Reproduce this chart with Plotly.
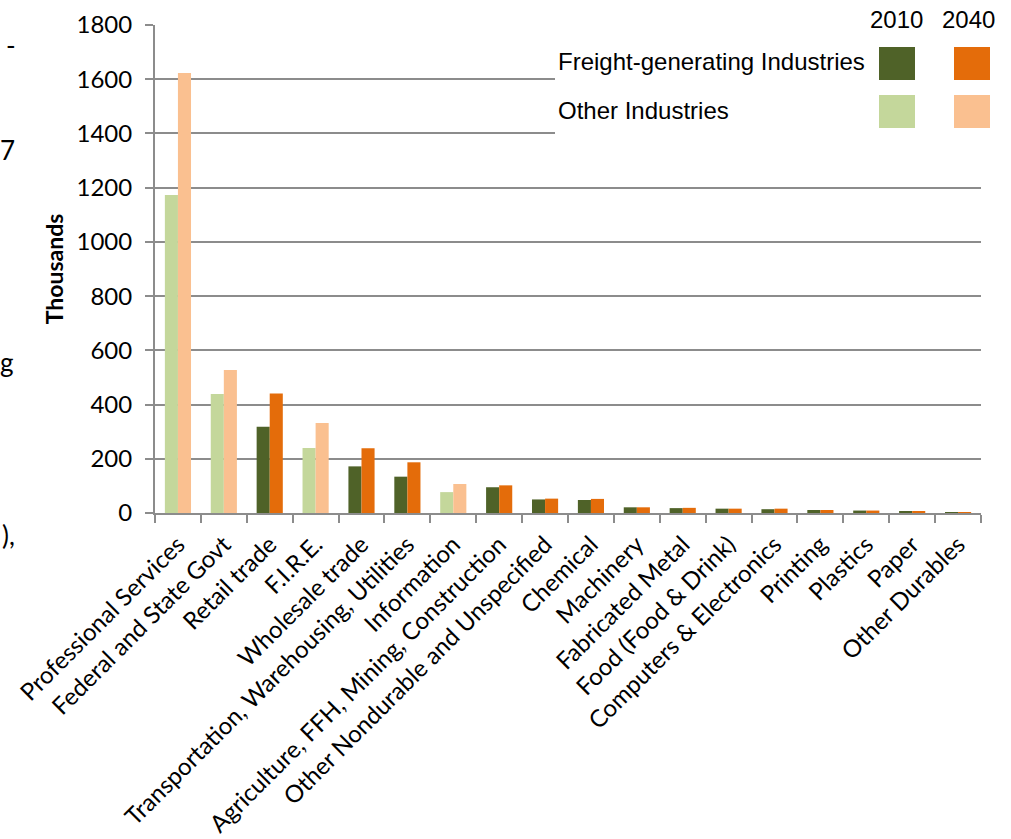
import plotly.graph_objects as go

# Employment by industry, thousands
categories = [
    "Professional Services", "Federal and State Govt", "Retail trade", "F.I.R.E.",
    "Wholesale trade", "Transportation, Warehousing, Utilities", "Information",
    "Agriculture, FFH, Mining, Construction", "Other Nondurable and Unspecified",
    "Chemical", "Machinery", "Fabricated Metal", "Food (Food & Drink)",
    "Computers & Electronics", "Printing", "Plastics", "Paper", "Other Durables",
]
values_2010 = [1173, 439, 318, 240, 172, 134, 77, 95, 50, 48, 21, 18, 16, 14, 11, 9, 6, 1]
values_2040 = [1623, 527, 441, 332, 239, 187, 107, 102, 53, 52, 21, 19, 16, 16, 11, 9, 7, 1]
freight_generating = [False, False, True, False, True, True, False, True, True,
                      True, True, True, True, True, True, True, True, True]

DARK_GREEN, ORANGE = "#4F6228", "#E46C0A"
LIGHT_GREEN, LIGHT_ORANGE = "#C4D79B", "#FAC090"

colors_2010 = [DARK_GREEN if f else LIGHT_GREEN for f in freight_generating]
colors_2040 = [ORANGE if f else LIGHT_ORANGE for f in freight_generating]

W, H = 1011, 839
L, R, T, B = 155, 30, 25, 326
PW, PH = W - L - R, H - T - B


def px(x):
    return (x - L) / PW


def py(y):
    return (H - B - y) / PH


fig = go.Figure()
fig.add_trace(go.Bar(x=categories, y=values_2010, name="2010",
                     marker=dict(color=colors_2010, line=dict(width=0))))
fig.add_trace(go.Bar(x=categories, y=values_2040, name="2040",
                     marker=dict(color=colors_2040, line=dict(width=0))))

GRID = "#8C8C8C"
label_font = dict(family="Lato, Carlito, Calibri, sans-serif", size=24, color="#000000")

shapes = [
    # white panel behind the key
    dict(type="rect", xref="paper", yref="paper", x0=px(555), x1=px(1011),
         y0=py(141), y1=py(5), fillcolor="white", line=dict(width=0), layer="above"),
]
swatches = [
    (879, 915, 47, 80, DARK_GREEN), (954, 990, 47, 80, ORANGE),
    (879, 915, 95, 128, LIGHT_GREEN), (954, 990, 95, 128, LIGHT_ORANGE),
]
for x0, x1, y0, y1, c in swatches:
    shapes.append(dict(type="rect", xref="paper", yref="paper", x0=px(x0), x1=px(x1),
                       y0=py(y1), y1=py(y0), fillcolor=c, line=dict(width=0), layer="above"))

key_font = dict(family="Liberation Sans, Arial, sans-serif", size=24, color="#000000")
annotations = [
    dict(text="2010", x=px(896), y=py(20), xref="paper", yref="paper",
         showarrow=False, font=key_font, xanchor="center", yanchor="middle"),
    dict(text="2040", x=px(968), y=py(20), xref="paper", yref="paper",
         showarrow=False, font=key_font, xanchor="center", yanchor="middle"),
    dict(text="Freight-generating Industries", x=px(556), y=py(62), xref="paper", yref="paper",
         showarrow=False, font=key_font, xanchor="left", yanchor="middle"),
    dict(text="Other Industries", x=px(556), y=py(110), xref="paper", yref="paper",
         showarrow=False, font=key_font, xanchor="left", yanchor="middle"),
]
# stray characters of the surrounding page text at the left edge
margin_font = dict(family="Lato, Carlito, sans-serif", size=26, color="#000000")
for ch, x, y in [("-", 4, 45), ("7", -2, 150), ("g", -2, 362), ("),", 0, 535)]:
    annotations.append(dict(text=ch, x=px(x), y=py(y), xref="paper", yref="paper",
                            showarrow=False, font=margin_font, xanchor="left", yanchor="middle"))

fig.update_layout(
    width=W, height=H,
    margin=dict(l=L, r=R, t=T, b=B, pad=0),
    paper_bgcolor="white", plot_bgcolor="white",
    barmode="group", bargap=0.43, bargroupgap=0,
    showlegend=False,
    shapes=shapes, annotations=annotations,
    xaxis=dict(
        tickangle=-45, tickfont=label_font, tickson="boundaries",
        ticks="outside", ticklen=8, tickcolor=GRID, tickwidth=2,
        showline=True, linecolor=GRID, linewidth=2, showgrid=False,
        ticklabelstandoff=6, automargin=False,
    ),
    yaxis=dict(
        range=[0, 1800], dtick=200, tickfont=label_font,
        ticks="outside", ticklen=8, tickcolor=GRID, tickwidth=2,
        showline=True, linecolor=GRID, linewidth=2,
        showgrid=True, gridcolor=GRID, gridwidth=1.6, zeroline=False,
        ticklabelstandoff=8, automargin=False,
        title=dict(text="<b>Thousands</b>", font=dict(family="Lato, Carlito, sans-serif", size=23,
                                                     color="#000000"), standoff=6),
    ),
)

fig.write_html("out.html")
